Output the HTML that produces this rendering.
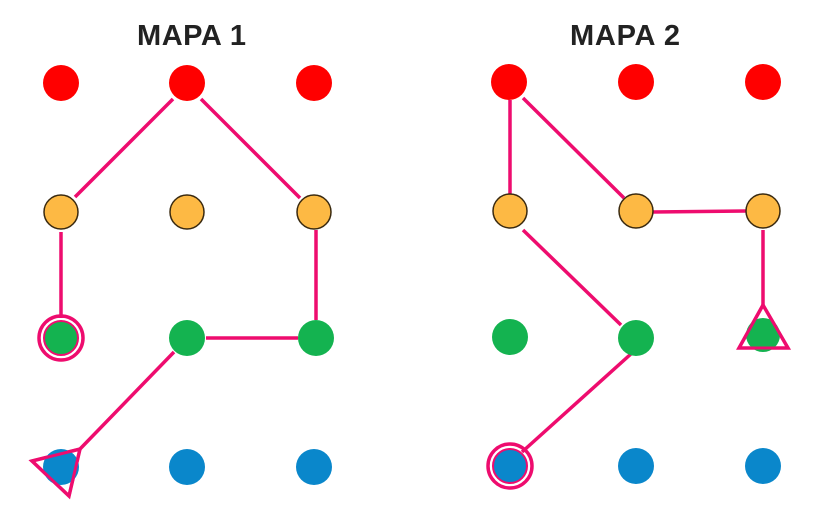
<!DOCTYPE html>
<html><head><meta charset="utf-8"><style>html,body{margin:0;padding:0;background:#fff}</style></head>
<body>
<svg width="833" height="509" xmlns="http://www.w3.org/2000/svg">
<g font-family="Liberation Sans, sans-serif" font-weight="bold" font-size="29" fill="#222">
<text x="137" y="45" textLength="109">MAPA 1</text>
<text x="570" y="45" textLength="110">MAPA 2</text>
</g>
<g stroke="#ee0c6e" stroke-width="3.5" fill="none">
<line x1="173" y1="99" x2="75" y2="197"/>
<line x1="201" y1="99" x2="300" y2="198"/>
<line x1="61" y1="232" x2="61" y2="318"/>
<line x1="316" y1="230" x2="316" y2="320"/>
<line x1="206" y1="338" x2="298" y2="338"/>
<line x1="174" y1="352" x2="80" y2="449"/>
<polygon points="32,461 80,449 69,496"/>
<circle cx="61" cy="338" r="22"/>
<line x1="510" y1="100" x2="510" y2="195"/>
<line x1="523" y1="98" x2="624" y2="198"/>
<line x1="653" y1="212" x2="746" y2="211"/>
<line x1="763" y1="230" x2="763" y2="305"/>
<polygon points="763,305 739,348 788,348"/>
<line x1="523" y1="230" x2="621" y2="325"/>
<line x1="632" y1="353" x2="522" y2="452"/>
<circle cx="510" cy="466" r="22"/>
</g>
<g fill="#ff0000">
<circle cx="61" cy="83" r="18"/><circle cx="187" cy="83" r="18"/><circle cx="314" cy="83" r="18"/>
<circle cx="509" cy="82" r="18"/><circle cx="636" cy="82" r="18"/><circle cx="763" cy="82" r="18"/>
</g>
<g fill="#fdb944" stroke="#3a2a10" stroke-width="1.5">
<circle cx="61" cy="212" r="17"/><circle cx="187" cy="212" r="17"/><circle cx="314" cy="212" r="17"/>
<circle cx="510" cy="211" r="17"/><circle cx="636" cy="211" r="17"/><circle cx="763" cy="211" r="17"/>
</g>
<g fill="#14b350">
<circle cx="61" cy="338" r="17" stroke="#ee0c6e" stroke-width="2"/><circle cx="187" cy="338" r="18"/><circle cx="316" cy="338" r="18"/>
<circle cx="510" cy="337" r="18"/><circle cx="636" cy="338" r="18"/><circle cx="763" cy="335" r="17"/>
</g>
<g fill="#0a87cb">
<circle cx="61" cy="467" r="18"/><circle cx="187" cy="467" r="18"/><circle cx="314" cy="467" r="18"/>
<circle cx="510" cy="466" r="17" stroke="#ee0c6e" stroke-width="2"/><circle cx="636" cy="466" r="18"/><circle cx="763" cy="466" r="18"/>
</g>
<g stroke="#ee0c6e" stroke-width="3" fill="none">
<polygon points="32,461 80,449 69,496"/>
<polygon points="763,305 739,348 788,348"/>
</g>
</svg>
</body></html>
